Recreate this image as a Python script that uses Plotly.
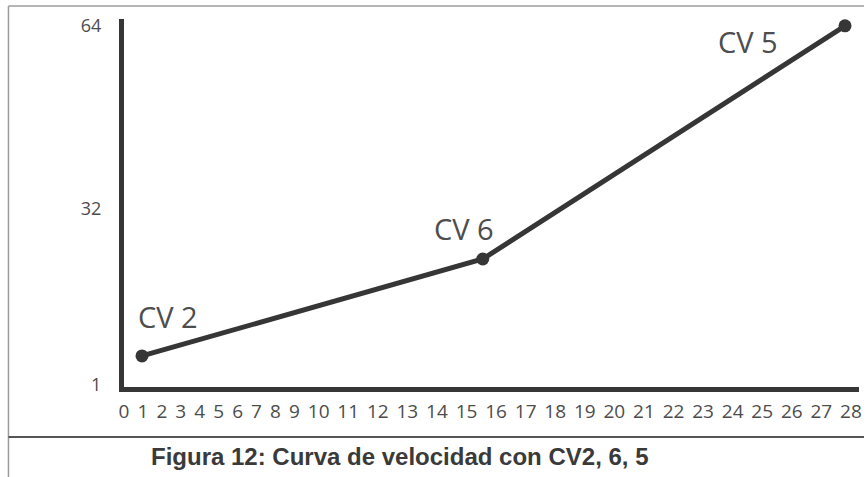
import numpy as np
import plotly.graph_objects as go

# ---------------- data ----------------
X_TICK_LABELS = ["0", "1", "2", "3", "4", "5", "6", "7", "8", "9", "10", "11", "12", "13",
                 "14", "15", "16", "17", "18", "19", "20", "21", "22", "23", "24", "25",
                 "26", "27", "28"]
X_TICK_VALUES = list(range(29))
Y_TICK_VALUES = [1, 32, 64]
Y_TICK_LABELS = ["1", "32", "64"]

POINT_NAMES = ["CV 2", "CV 6", "CV 5"]
POINT_X = [0.95, 15.55, 27.8]
POINT_Y = [6.1, 23.1, 64.0]

TITLE = "Figura 12: Curva de velocidad con CV2, 6, 5"

# ---------------- x scale: labels laid out like typed text ----------------
GAP = 0.78  # space between labels, in digit widths
tick_pos = []
cur = 0.0
for i, lab in enumerate(X_TICK_LABELS):
    if i == 0:
        cur = len(lab) / 2
    else:
        cur += len(X_TICK_LABELS[i - 1]) / 2 + GAP + len(lab) / 2
    tick_pos.append(cur)
point_pos = np.interp(POINT_X, X_TICK_VALUES, tick_pos)

# ---------------- layout helpers ----------------
W, H = 867, 477
ML, MR, MT, MB = 124, 5, 19, 90
PW, PH = W - ML - MR, H - MT - MB


def px_x(p):
    return (p - ML) / PW


def px_y(p):
    return (H - MB - p) / PH


INK = "#363636"
TXT = "#4d4d4d"
FRAME = "#9c9c9c"

fig = go.Figure()
fig.add_trace(go.Scatter(
    x=point_pos, y=POINT_Y, mode="lines+markers",
    line=dict(color=INK, width=5),
    marker=dict(color=INK, size=13),
    cliponaxis=False, showlegend=False, hoverinfo="skip",
))

shifts = [(26, 39), (-19, 31), (-97, -16)]
for name, xp, yv, (dx, dy) in zip(POINT_NAMES, point_pos, POINT_Y, shifts):
    fig.add_annotation(x=xp, y=yv, text=name, showarrow=False,
                       xshift=dx, yshift=dy, xanchor="center", yanchor="middle",
                       font=dict(family="Open Sans", size=29, color=TXT))

fig.add_annotation(xref="paper", yref="paper", x=px_x(401), y=px_y(456),
                   xanchor="center", yanchor="middle",
                   text=TITLE, showarrow=False,
                   font=dict(family="Liberation Sans Narrow, Arial Narrow, sans-serif",
                             size=24, color="#3a3a3a", weight=700))

# frame lines
fig.add_shape(type="line", xref="paper", yref="paper",
              x0=px_x(8), y0=px_y(6), x1=px_x(W), y1=px_y(6),
              line=dict(color=FRAME, width=1.5))
fig.add_shape(type="line", xref="paper", yref="paper",
              x0=px_x(8), y0=px_y(6), x1=px_x(8), y1=px_y(H),
              line=dict(color=FRAME, width=1.5))
fig.add_shape(type="line", xref="paper", yref="paper",
              x0=px_x(8), y0=px_y(437), x1=px_x(W), y1=px_y(437),
              line=dict(color="#555555", width=2))

fig.update_layout(
    width=W, height=H,
    margin=dict(l=ML, r=MR, t=MT, b=MB, pad=0),
    paper_bgcolor="white", plot_bgcolor="white",
    hovermode=False,
    xaxis=dict(range=[0.5, 69.6], tickvals=tick_pos, ticktext=X_TICK_LABELS,
               showgrid=False, zeroline=False, showline=True,
               linecolor=INK, linewidth=5, ticks="",
               ticklabelstandoff=3,
               tickfont=dict(family="Open Sans", size=19, color=TXT)),
    yaxis=dict(range=[0.65, 65.2], tickvals=Y_TICK_VALUES, ticktext=Y_TICK_LABELS,
               showgrid=False, zeroline=False, showline=True,
               linecolor=INK, linewidth=5, ticks="",
               ticklabelstandoff=14,
               tickfont=dict(family="Open Sans", size=18, color=TXT)),
)

fig.write_html("out.html", config={"displayModeBar": False},
               post_script="document.body.style.margin='0';")
